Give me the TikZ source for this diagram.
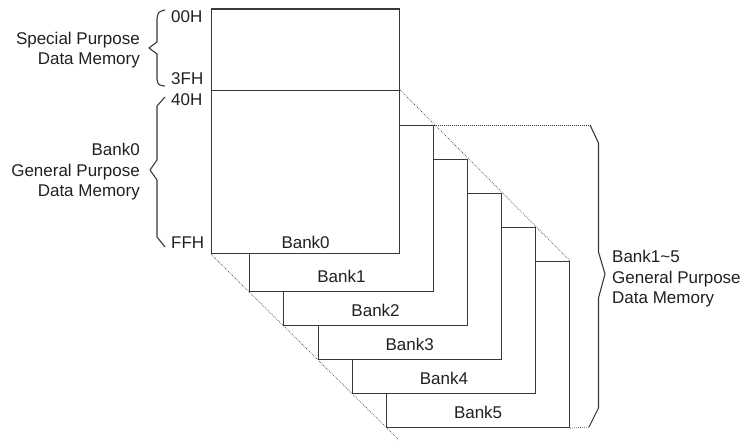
\documentclass[tikz,border=0pt]{standalone}
\usepackage{fontspec}
\setmainfont{Liberation Sans}
\usetikzlibrary{positioning,calc}
\definecolor{memline}{RGB}{60,55,55}
\definecolor{memtext}{RGB}{35,31,32}

\begin{document}
\begin{tikzpicture}[x=1pt,y=-1pt,
    every node/.style={font=\fontsize{17}{20.5}\selectfont, text=memtext, inner sep=0pt},
    bank/.style={draw=memline, line width=1.2pt, fill=white, anchor=north west},
    guide/.style={memline, line width=0.6pt, dash pattern=on 0.8pt off 1.2pt},
    bracket/.style={memline, line width=1.1pt, line join=round}]
    \useasboundingbox (0,0) rectangle (740,441);

    % banks 5..1, from the back to the front
    \foreach \i in {5,4,...,1} {
        \pgfmathsetmacro{\bl}{249+34.25*(\i-1)}
        \pgfmathsetmacro{\br}{398.5+34.1*\i}
        \pgfmathsetmacro{\bt}{91+34*\i}
        \pgfmathsetmacro{\bb}{291+34*(\i-1)}
        \node[bank, minimum width={(\br-\bl)*1pt}, minimum height={(\bb-\bt)*1pt}] (bank\i) at (\bl,\bt) {};
        \node (lbl\i) at ([yshift=15.5pt]bank\i.south) {Bank\i};
    }

    % bank0 with the special purpose part on top
    \node[bank, minimum width=188pt, minimum height=81.5pt] (sfr) at (211,8.5) {};
    \node[bank, minimum width=188pt, minimum height=163pt] (gpr0) at (211,90) {};
    \node (lbl0) at ([yshift=12pt]gpr0.south) {Bank0};

    \coordinate (rtop) at (590,125);
    \coordinate (rbot) at (589,427);
    \coordinate (dtail) at (399,440);
    \draw[guide] (gpr0.north east) -- (bank5.north east);
    \draw[guide] (gpr0.south west) -- (dtail);
    \draw[guide] (bank1.north east) -- (rtop);
    \draw[guide] (bank5.south east) -- (rbot);

    % addresses
    \node[anchor=west] (a00) at (171,17) {00H};
    \node[anchor=west] (a3f) at (171,79) {3FH};
    \node[anchor=west] (a40) at (171,100) {40H};
    \node[anchor=west] (aff) at (171,243) {FFH};

    % braces
    \draw[bracket] (165,10) .. controls (158,12) .. (157,19) -- (157,42) -- (149,48) -- (157,54)
        -- (157,79) .. controls (158,85) .. (165,86);
    \draw[bracket] (165,97) -- (157,106) -- (157,160) -- (150,170) -- (157,180) -- (157,237) -- (165,247);
    \draw[bracket] (rtop) -- (598.5,143) -- (598.5,252) -- (605,274) -- (598.5,298) -- (598.5,408) -- (rbot);

    \node[anchor=east, align=right] (sfrtxt) at (140,50) {Special Purpose\\Data Memory};
    \node[anchor=east, align=right] (gpr0txt) at (140,172) {Bank0\\General Purpose\\Data Memory};
    \node[anchor=west, align=left] (gprtxt) at (612,279) {Bank1\textasciitilde5\\General Purpose\\Data Memory};
\end{tikzpicture}
\end{document}
